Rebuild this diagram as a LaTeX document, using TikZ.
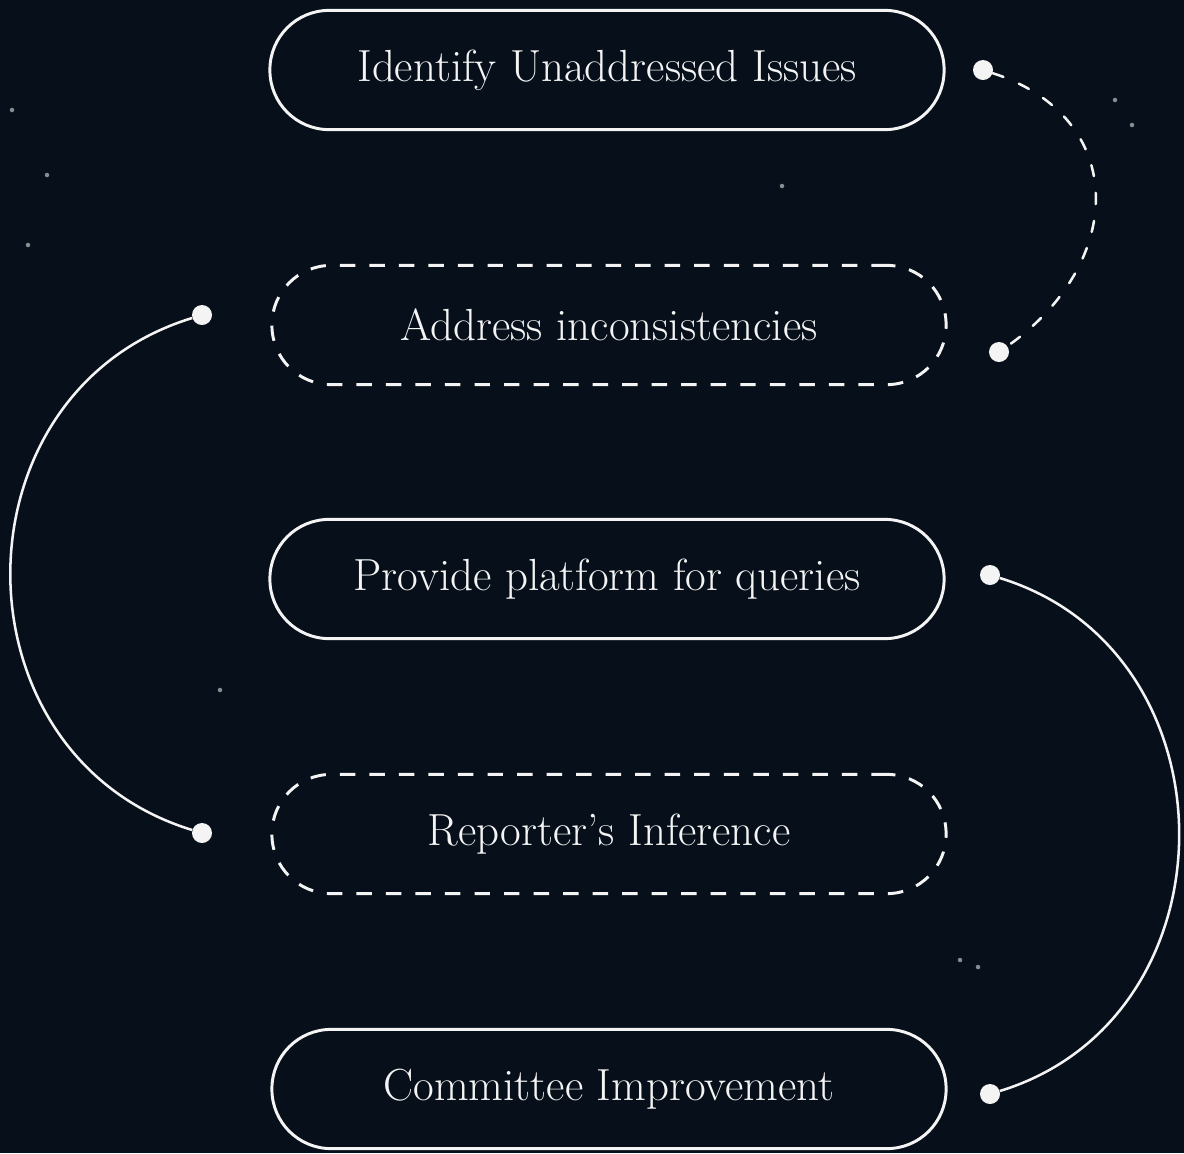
\documentclass[tikz,border=0pt]{standalone}
\usepackage{tikz}
\usetikzlibrary{arrows}
\definecolor{nightsky}{HTML}{07101A}
\definecolor{chalk}{HTML}{F4F4F4}
\tikzset{
every picture/.style={x=0.025cm, y=-0.025cm},
stage/.style={draw=chalk, line width=2.1pt, rounded corners=1.48cm,
  minimum width=16.85cm, minimum height=2.98cm, text=chalk,
  font=\fontsize{32}{36}\selectfont},
dashstage/.style={stage, dash pattern=on 11pt off 10pt},
dot/.style={circle, fill=chalk, inner sep=0pt, minimum size=0.5cm},
link/.style={draw=chalk, line width=1.8pt},
dashlink/.style={link, line cap=round, dash pattern=on 8pt off 12pt}
}

\begin{document}
\begin{tikzpicture}
    \fill[nightsky] (0,0) rectangle (1184,1153);
    \useasboundingbox (0,0) rectangle (1184,1153);
    % faint stars
    \foreach \p in {(782,186),(47,175),(28,245),(220,690),(978,967),(1132,125),(1115,100),(12,110),(960,960)}
      \fill[chalk, opacity=0.55] \p circle (1.6pt);

    \node[stage] (identify) at (607,70) {Identify Unaddressed Issues};
    \node[dashstage] (address) at (609,325) {Address inconsistencies};
    \node[stage] (provide) at (607,579) {Provide platform for queries};
    \node[dashstage] (infer) at (609,834) {Reporter's Inference};
    \node[stage] (improve) at (609,1089) {Committee Improvement};

    \node[dot] (d1) at (983,70) {};
    \node[dot] (d2) at (999,352) {};
    \node[dot] (d3) at (202,315) {};
    \node[dot] (d4) at (202,833) {};
    \node[dot] (d5) at (990,575) {};
    \node[dot] (d6) at (990,1094) {};

    \draw[dashlink] (d1) to[out=-18, in=35, looseness=1.35] (d2);
    \draw[link] (d3) to[out=197, in=163, looseness=1.27] (d4);
    \draw[link] (d5) to[out=-17, in=17, looseness=1.25] (d6);
  \end{tikzpicture}
\end{document}
